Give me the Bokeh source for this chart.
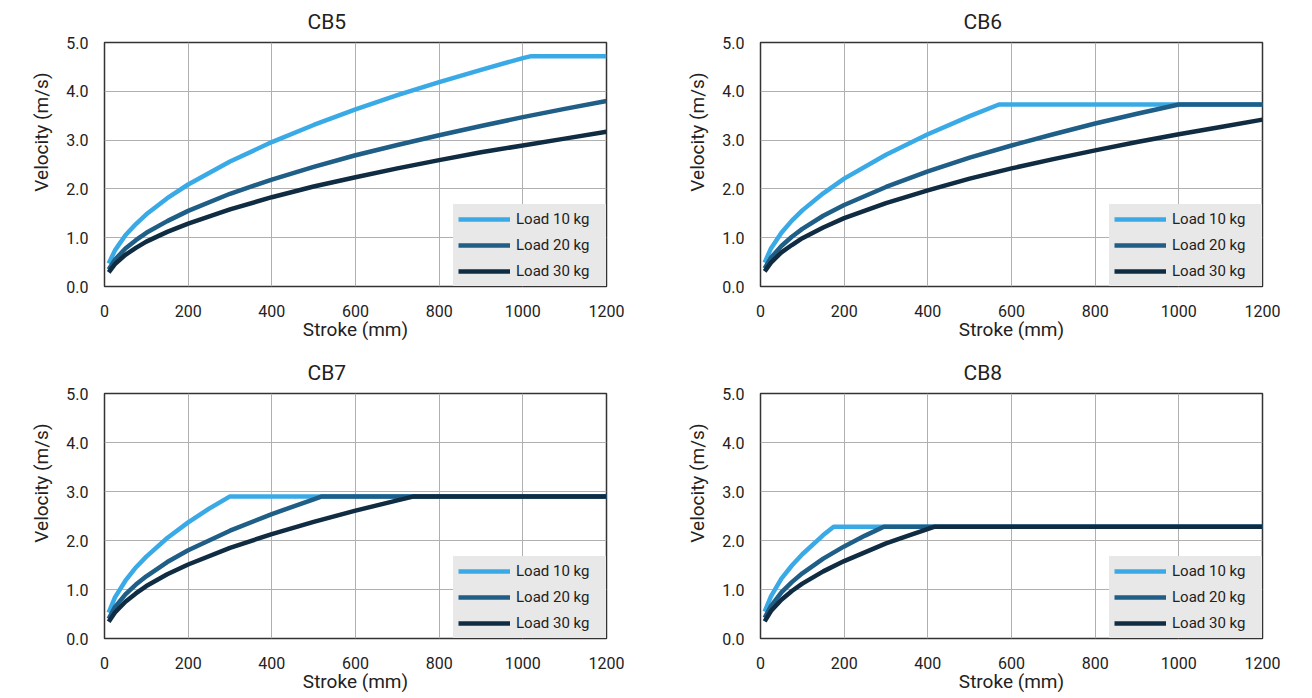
from bokeh.plotting import figure
from bokeh.layouts import gridplot
from bokeh.models import Range1d, FixedTicker, NumeralTickFormatter, Title
from bokeh.embed import file_html
from bokeh.resources import INLINE

# ---------------- data ----------------
titles = ["CB5", "CB6", "CB7", "CB8"]
load_labels = ["Load 10 kg", "Load 20 kg", "Load 30 kg"]
x_ticks = [0, 200, 400, 600, 800, 1000, 1200]
y_ticks = [0, 1, 2, 3, 4, 5]

# CB5
cb5_stroke_10 = [10, 25, 50, 75, 100, 150, 200, 300, 400, 500, 600, 700, 800, 900, 1000, 1020, 1200]
cb5_vel_10 = [0.47, 0.74, 1.05, 1.28, 1.48, 1.81, 2.09, 2.56, 2.96, 3.31, 3.63, 3.92, 4.19, 4.44, 4.68, 4.72, 4.72]
cb5_stroke_20 = [10, 25, 50, 75, 100, 150, 200, 300, 400, 500, 600, 700, 800, 900, 1000, 1100, 1200]
cb5_vel_20 = [0.35, 0.55, 0.78, 0.95, 1.10, 1.34, 1.55, 1.90, 2.19, 2.45, 2.69, 2.90, 3.10, 3.29, 3.47, 3.64, 3.80]
cb5_stroke_30 = [10, 25, 50, 75, 100, 150, 200, 300, 400, 500, 600, 700, 800, 900, 1000, 1100, 1200]
cb5_vel_30 = [0.29, 0.46, 0.65, 0.79, 0.92, 1.12, 1.29, 1.58, 1.83, 2.05, 2.24, 2.42, 2.59, 2.75, 2.89, 3.03, 3.17]

# CB6
cb6_stroke_10 = [10, 25, 50, 75, 100, 150, 200, 300, 400, 500, 570, 1200]
cb6_vel_10 = [0.49, 0.78, 1.10, 1.35, 1.56, 1.91, 2.21, 2.70, 3.12, 3.49, 3.73, 3.73]
cb6_stroke_20 = [10, 25, 50, 75, 100, 150, 200, 300, 400, 500, 600, 700, 800, 900, 1000, 1200]
cb6_vel_20 = [0.37, 0.59, 0.83, 1.02, 1.18, 1.45, 1.67, 2.04, 2.36, 2.64, 2.89, 3.12, 3.34, 3.54, 3.73, 3.73]
cb6_stroke_30 = [10, 25, 50, 75, 100, 150, 200, 300, 400, 500, 600, 700, 800, 900, 1000, 1100, 1200]
cb6_vel_30 = [0.31, 0.49, 0.70, 0.85, 0.99, 1.21, 1.40, 1.71, 1.97, 2.21, 2.42, 2.61, 2.79, 2.96, 3.12, 3.27, 3.42]

# CB7
cb7_stroke_10 = [10, 25, 50, 75, 100, 150, 200, 250, 300, 1200]
cb7_vel_10 = [0.53, 0.84, 1.18, 1.45, 1.67, 2.05, 2.37, 2.65, 2.90, 2.90]
cb7_stroke_20 = [10, 25, 50, 75, 100, 150, 200, 300, 400, 500, 520, 1200]
cb7_vel_20 = [0.40, 0.64, 0.90, 1.10, 1.27, 1.56, 1.80, 2.20, 2.54, 2.84, 2.90, 2.90]
cb7_stroke_30 = [10, 25, 50, 75, 100, 150, 200, 300, 400, 500, 600, 700, 740, 1200]
cb7_vel_30 = [0.34, 0.53, 0.75, 0.92, 1.07, 1.31, 1.51, 1.85, 2.13, 2.38, 2.61, 2.82, 2.90, 2.90]

# CB8
cb8_stroke_10 = [10, 25, 50, 75, 100, 150, 175, 1200]
cb8_vel_10 = [0.55, 0.86, 1.22, 1.49, 1.72, 2.11, 2.28, 2.28]
cb8_stroke_20 = [10, 25, 50, 75, 100, 150, 200, 250, 295, 1200]
cb8_vel_20 = [0.42, 0.66, 0.94, 1.15, 1.33, 1.63, 1.88, 2.10, 2.28, 2.28]
cb8_stroke_30 = [10, 25, 50, 75, 100, 150, 200, 300, 350, 415, 1200]
cb8_vel_30 = [0.35, 0.56, 0.79, 0.97, 1.12, 1.37, 1.58, 1.94, 2.09, 2.28, 2.28]

# ---------------- styling ----------------
FONT = "Roboto"
TEXT = "#222222"
COLORS = ["#3aaae6", "#1f5e87", "#102c42"]
LEGEND_BG = "#e8e8e8"

charts = [
    (titles[0], [(cb5_stroke_10, cb5_vel_10), (cb5_stroke_20, cb5_vel_20), (cb5_stroke_30, cb5_vel_30)]),
    (titles[1], [(cb6_stroke_10, cb6_vel_10), (cb6_stroke_20, cb6_vel_20), (cb6_stroke_30, cb6_vel_30)]),
    (titles[2], [(cb7_stroke_10, cb7_vel_10), (cb7_stroke_20, cb7_vel_20), (cb7_stroke_30, cb7_vel_30)]),
    (titles[3], [(cb8_stroke_10, cb8_vel_10), (cb8_stroke_20, cb8_vel_20), (cb8_stroke_30, cb8_vel_30)]),
]


def make(title, series, width, height, border_left, border_right, border_top, border_bottom):
    p = figure(width=width, height=height, output_backend="svg", toolbar_location=None,
               x_range=Range1d(0, 1200), y_range=Range1d(0, 5),
               min_border_left=border_left, min_border_right=border_right,
               min_border_top=border_top, min_border_bottom=border_bottom,
               background_fill_color="white", border_fill_color="white",
               outline_line_color="#333333", outline_line_width=1.5)
    p.title.text = title
    p.title.align = "left"
    p.title.offset = 203
    p.title.vertical_align = "top"
    p.title.standoff = 13
    p.title.text_font = FONT
    p.title.text_font_size = "21px"
    p.title.text_font_style = "normal"
    p.title.text_color = TEXT

    for (xs, ys), color, lab in zip(series, COLORS, load_labels):
        p.line(xs, ys, line_color=color, line_width=4.5, line_join="round", legend_label=lab)

    p.xaxis.ticker = FixedTicker(ticks=x_ticks)
    p.yaxis.ticker = FixedTicker(ticks=y_ticks)
    p.yaxis.formatter = NumeralTickFormatter(format="0.0")
    p.xaxis.axis_label = "Stroke (mm)"
    for ax in (p.xaxis[0], p.yaxis[0]):
        ax.axis_line_color = None
        ax.major_tick_line_color = None
        ax.minor_tick_line_color = None
        ax.major_tick_out = 0
        ax.major_tick_in = 0
        ax.major_label_text_font = FONT
        ax.major_label_text_font_size = "16px"
        ax.major_label_text_color = TEXT
        ax.axis_label_text_font = FONT
        ax.axis_label_text_font_size = "19px"
        ax.axis_label_text_font_style = "normal"
        ax.axis_label_text_color = TEXT
    p.xaxis.major_label_standoff = 18
    p.xaxis.axis_label_standoff = -2
    p.yaxis.major_label_standoff = 16

    # y axis title, placed (like the reference) above the middle of the frame
    ytitle = Title(text="Velocity (m/s)", align="right", offset=30,
                   vertical_align="bottom", standoff=22,
                   text_font=FONT, text_font_size="19px", text_font_style="normal",
                   text_color=TEXT)
    p.add_layout(ytitle, "left")

    p.xgrid.grid_line_color = "#b0b0b0"
    p.ygrid.grid_line_color = "#b0b0b0"
    p.xgrid.grid_line_width = 1
    p.ygrid.grid_line_width = 1

    lg = p.legend[0]
    lg.location = "bottom_right"
    lg.margin = 0
    lg.padding = 4
    lg.spacing = 6
    lg.label_height = 20
    lg.glyph_height = 20
    lg.glyph_width = 52
    lg.label_standoff = 6
    lg.label_width = 85
    lg.background_fill_color = LEGEND_BG
    lg.background_fill_alpha = 1
    lg.border_line_color = LEGEND_BG
    lg.border_line_width = 1
    lg.label_text_font = FONT
    lg.label_text_font_size = "15px"
    lg.label_text_color = TEXT
    return p


p1 = make(*charts[0], width=664, height=353, border_left=104, border_right=58, border_top=42, border_bottom=67)
p2 = make(*charts[1], width=640, height=353, border_left=96, border_right=42, border_top=42, border_bottom=67)
p3 = make(*charts[2], width=664, height=343, border_left=104, border_right=58, border_top=40, border_bottom=58)
p4 = make(*charts[3], width=640, height=343, border_left=96, border_right=42, border_top=40, border_bottom=58)

grid = gridplot([[p1, p2], [p3, p4]], toolbar_location=None)

open("out.html", "w").write(file_html(grid, INLINE))
